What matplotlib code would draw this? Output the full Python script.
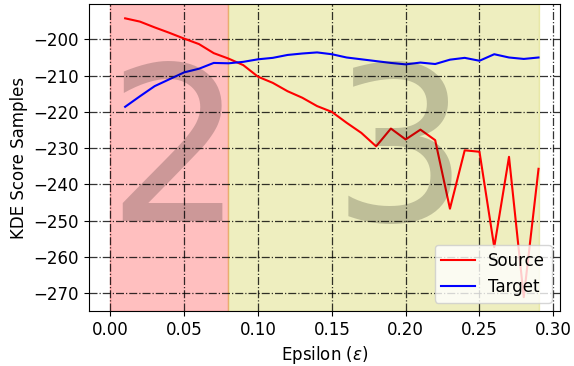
import numpy as np
import matplotlib
matplotlib.use("Agg")
import matplotlib.pyplot as plt

# epsilon values and KDE scores
eps = np.round(np.arange(1, 30) * 0.01, 2)
source = [-194.2, -195.1, -196.7, -198.2, -199.8, -201.3, -203.8, -205.3,
          -207.1, -210.3, -212.0, -214.3, -216.1, -218.4, -220.0, -223.0,
          -225.8, -229.5, -224.6, -227.6, -224.9, -227.8, -246.7, -230.6,
          -231.0, -257.3, -232.4, -271.1, -235.7]
target = [-218.6, -215.7, -212.9, -211.0, -209.1, -208.1, -206.5, -206.6,
          -206.2, -205.5, -205.1, -204.3, -203.9, -203.6, -204.1, -205.0,
          -205.5, -206.0, -206.5, -206.9, -206.4, -206.8, -205.6, -205.1,
          -205.9, -204.1, -205.0, -205.4, -205.0]

# regions and their labels
regions = [(0.0, 0.08, 'r', '2'), (0.08, 0.29, 'y', '3')]
label_pos = [0.0435, 0.196]
label_y = -250.2

fig = plt.figure(figsize=(5.74, 3.66), dpi=100)
ax = fig.add_axes([0.155, 0.150, 0.8205, 0.838])

for (lo, hi, c, name), xp in zip(regions, label_pos):
    ax.axvspan(lo, hi, color=c, alpha=0.25)
    ax.text(xp, label_y, name, fontsize=155, color='k', alpha=0.2,
            ha='center', va='baseline')

ax.plot(eps, source, color='red', lw=1.5, label='Source')
ax.plot(eps, target, color='blue', lw=1.5, label='Target')

ax.grid(True, color='k', linestyle='-.', linewidth=0.9, alpha=0.8)
ax.set_xlabel(r'Epsilon ($\epsilon$)', fontsize=12)
ax.set_ylabel('KDE Score Samples', fontsize=12)
ax.tick_params(labelsize=12)
ax.legend(loc='lower right', fontsize=12)

fig.savefig('out.png', dpi=100)
